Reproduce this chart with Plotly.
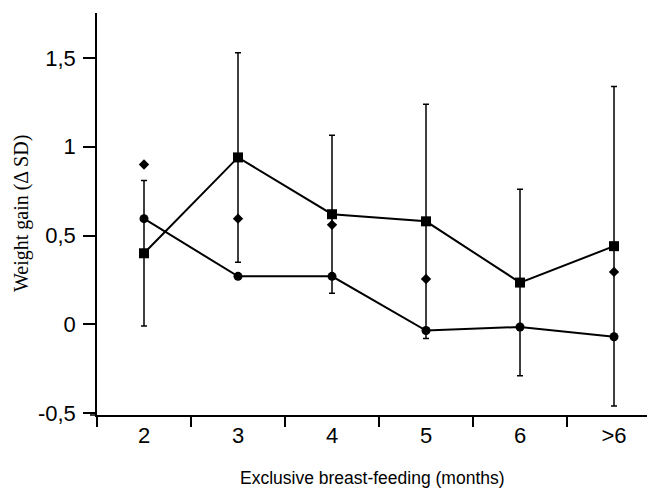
import plotly.graph_objects as go

categories = ["2", "3", "4", "5", "6", ">6"]
square_vals = [0.40, 0.94, 0.62, 0.58, 0.235, 0.44]
square_err = [0.41, 0.59, 0.445, 0.66, 0.525, 0.90]
circle_vals = [0.595, 0.27, 0.27, -0.035, -0.015, -0.07]
diamond_vals = [0.90, 0.595, 0.56, 0.255, None, 0.295]

y_tickvals = [-0.5, 0, 0.5, 1, 1.5]
y_ticktext = ["-0,5", "0", "0,5", "1", "1,5"]

fig = go.Figure()

fig.add_trace(go.Scatter(
    x=categories, y=square_vals, mode="lines+markers",
    line=dict(color="black", width=2),
    marker=dict(symbol="square", size=10, color="black"),
    error_y=dict(type="data", array=square_err, visible=True,
                 color="black", thickness=1.5, width=3),
    showlegend=False, cliponaxis=False))

fig.add_trace(go.Scatter(
    x=categories, y=circle_vals, mode="lines+markers",
    line=dict(color="black", width=2),
    marker=dict(symbol="circle", size=9, color="black"),
    showlegend=False))

fig.add_trace(go.Scatter(
    x=categories, y=diamond_vals, mode="markers",
    marker=dict(symbol="diamond", size=8, color="black"),
    showlegend=False))

# page body has an 8px margin, so the figure is 8px smaller and offset
fig.update_layout(
    width=647, height=480,
    margin=dict(l=89, r=0, t=5, b=73, autoexpand=False),
    paper_bgcolor="white", plot_bgcolor="white",
    font=dict(family="Liberation Sans, Arial, sans-serif", color="black"),
    xaxis=dict(
        type="category", range=[-0.5, 5.436], automargin=False,
        showline=True, linecolor="black", linewidth=1.5,
        ticks="outside", tickson="boundaries", ticklen=10, tickwidth=1.5,
        tickcolor="black", showgrid=False, zeroline=False,
        tickfont=dict(size=22),
    ),
    yaxis=dict(
        range=[-0.511, 1.7535], automargin=False,
        tickvals=y_tickvals, ticktext=y_ticktext,
        showline=True, linecolor="black", linewidth=1.5,
        ticks="outside", ticklen=12, tickwidth=1.5, tickcolor="black",
        showgrid=False, zeroline=False, ticklabelstandoff=3,
        tickfont=dict(size=22),
    ),
    annotations=[
        dict(text="Exclusive breast-feeding (months)", xref="paper", yref="paper",
             x=(372 - 97) / 558, y=0, yshift=-63, xanchor="center", yanchor="middle",
             showarrow=False, font=dict(size=17.5, family="Liberation Sans, Arial, sans-serif")),
        dict(text="Weight gain (\u0394 SD)", xref="paper", yref="paper",
             x=0, xshift=-76, y=(415 - 214) / 402, xanchor="center", yanchor="middle",
             textangle=-90, showarrow=False,
             font=dict(size=20, family="Liberation Serif, Times New Roman, serif")),
    ],
    shapes=[
        dict(type="line", xref="paper", yref="paper", x0=0, x1=0, y0=0, y1=-10 / 402,
             line=dict(color="black", width=1.5)),
        dict(type="line", xref="paper", yref="paper", x0=-7 / 558, x1=0, y0=0, y1=0,
             line=dict(color="black", width=1.5)),
    ],
)

fig.write_html("out.html")
